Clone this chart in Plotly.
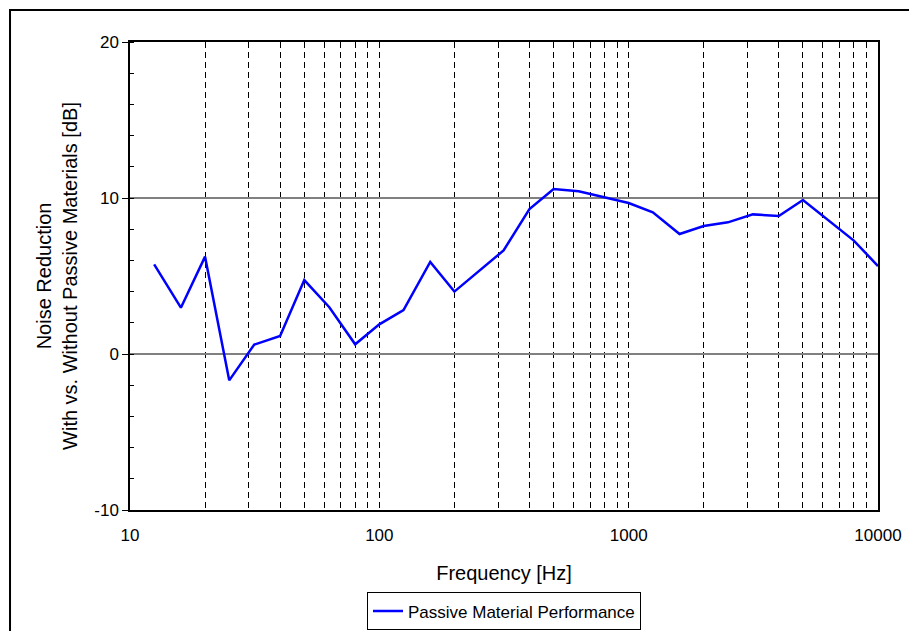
import plotly.graph_objects as go

freq = [12.5, 16, 20, 25, 31.5, 40, 50, 63, 80, 100, 125, 160, 200, 250, 315,
        400, 500, 630, 800, 1000, 1250, 1600, 2000, 2500, 3150, 4000, 5000,
        6300, 8000, 10000]
reduction = [5.75, 2.97, 6.24, -1.69, 0.6, 1.15, 4.74, 3.0, 0.62, 1.9, 2.82, 5.9,
             4.0, 5.28, 6.64, 9.29, 10.58, 10.43, 10.06, 9.68, 9.08, 7.69, 8.2,
             8.44, 8.95, 8.85, 9.87, 8.57, 7.27, 5.64]
x_tick_vals = [10, 100, 1000, 10000]
x_tick_text = ["10", "100", "1000", "10000"]
y_tick_vals = [-10, 0, 10, 20]
y_tick_text = ["-10", "0", "10", "20"]
series_name = "Passive Material Performance"
x_title = "Frequency [Hz]"
y_title = "Noise Reduction<br>With vs. Without Passive Materials [dB]"

fig = go.Figure()
fig.add_trace(go.Scatter(x=freq, y=reduction, mode="lines", name=series_name,
                         line=dict(color="#0000FF", width=2.5)))

font = "Liberation Sans, Arial, sans-serif"
fig.update_layout(
    width=909, height=631,
    margin=dict(l=130, r=31, t=42, b=121, autoexpand=False),
    paper_bgcolor="white", plot_bgcolor="white",
    font=dict(family=font, color="black", size=17),
    showlegend=True,
    legend=dict(orientation="h", x=0.5, xanchor="center", y=-0.176, yanchor="top",
                bordercolor="black", borderwidth=1, font=dict(size=17),
                itemwidth=30, tracegroupgap=0),
    xaxis=dict(
        type="log", range=[1, 4],
        tickvals=x_tick_vals, ticktext=x_tick_text,
        showline=True, linecolor="black", linewidth=1.5, mirror=True,
        showgrid=True, gridcolor="black", gridwidth=1, griddash="6px,4px",
        ticks="", tickfont=dict(size=17), ticklabelstandoff=9,
        minor=dict(dtick="D1", showgrid=True, gridcolor="black", gridwidth=1,
                   griddash="6px,4px", ticks=""),
        title=dict(text=x_title, font=dict(size=20), standoff=22),
        zeroline=False, automargin=False,
    ),
    yaxis=dict(
        range=[-10, 20], tickvals=y_tick_vals, ticktext=y_tick_text,
        showline=True, linecolor="black", linewidth=1.5, mirror=True,
        showgrid=True, gridcolor="#808080", gridwidth=1.5,
        ticks="outside", ticklen=6, tickcolor="black", tickfont=dict(size=17),
        minor=dict(dtick=2, ticks="inside", ticklen=4, tickcolor="black", showgrid=False),
        title=dict(text=y_title, font=dict(size=20), standoff=11),
        zeroline=False, automargin=False,
    ),
    shapes=[dict(type="rect", xref="paper", yref="paper",
                 x0=-0.1604, x1=1.2, y0=-0.4, y1=1.0684,
                 line=dict(color="black", width=2), fillcolor="rgba(0,0,0,0)",
                 layer="below")],
)

fig.write_html("out.html")
